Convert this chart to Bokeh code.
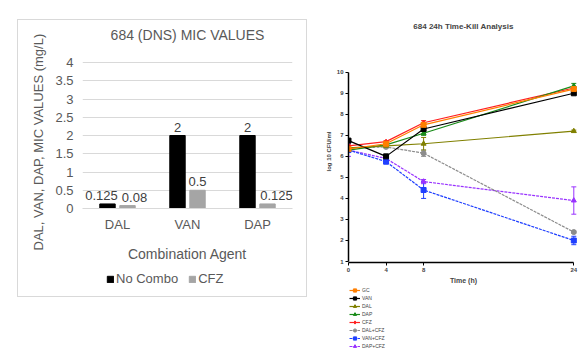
from bokeh.plotting import figure
from bokeh.models import (ColumnDataSource, FactorRange, FixedTicker, Legend, LegendItem,
                          Whisker, TeeHead, Range1d, Title)
from bokeh.layouts import row, column
from bokeh.transform import dodge
from bokeh.core.properties import value
from bokeh.embed import file_html
from bokeh.resources import INLINE

NAN = float("nan")

# ---------------- data: left bar chart ----------------
agents = ["DAL", "VAN", "DAP"]
no_combo = [0.125, 2, 2]
cfz_mic = [0.08, 0.5, 0.125]
no_combo_labels = ["0.125", "2", "2"]
cfz_labels = ["0.08", "0.5", "0.125"]
mic_ticks = [0, 0.5, 1, 1.5, 2, 2.5, 3, 3.5, 4]
mic_tick_labels = ["0", "0.5", "1", "1.5", "2", "2.5", "3", "3.5", "4"]
bar_series = ["No Combo", "CFZ"]

# ---------------- data: right time-kill chart ----------------
times = [0, 4, 8, 24]
series_names = ["GC", "VAN", "DAL", "DAP", "CFZ", "DAL+CFZ", "VAN+CFZ", "DAP+CFZ"]
gc = [6.35, 6.6, 7.5, 9.2]
van = [6.75, 6.0, 7.3, 9.0]
dal = [6.4, 6.5, 6.6, 7.2]
dap = [6.3, 6.55, 7.1, 9.35]
cfz = [6.5, 6.7, 7.6, 9.25]
dal_cfz = [6.4, 6.45, 6.15, 2.4]
van_cfz = [6.3, 5.75, 4.4, 2.0]
dap_cfz = [6.3, 5.9, 4.8, 3.9]
gc_sd = [0.05, 0.05, 0.1, 0.1]
van_sd = [0.05, 0.05, 0.1, 0.05]
dal_sd = [0.05, 0.05, 0.3, 0.05]
dap_sd = [0.05, 0.05, 0.1, 0.12]
cfz_sd = [0.05, 0.05, 0.1, 0.05]
dal_cfz_sd = [0.05, 0.05, 0.15, 0.05]
van_cfz_sd = [0.05, 0.1, 0.4, 0.2]
dap_cfz_sd = [0.3, 0.05, 0.1, 0.65]
tk_ticks_x = [0, 4, 8, 24]
tk_ticks_y = [1, 2, 3, 4, 5, 6, 7, 8, 9, 10]

TXT = "#595959"
FONT = "Liberation Sans"
BORDER = "#d9d9d9"
bar_colors = ["black", "#a5a5a5"]

# ---------------- left figure ----------------
pL = figure(x_range=FactorRange(factors=agents), y_range=(0, 4.466),
            width=288, height=249, output_backend="svg", toolbar_location=None,
            min_border_left=64, min_border_right=14, min_border_top=25, min_border_bottom=61)
pL.title.text = "684 (DNS) MIC VALUES"
pL.title.align = "center"
pL.title.text_font = FONT
pL.title.text_font_size = "14px"
pL.title.text_font_style = "normal"
pL.title.text_color = TXT
pL.title.standoff = 6
pL.outline_line_color = None

src = ColumnDataSource(dict(agent=agents, nc=no_combo, cf=cfz_mic,
                            nl=no_combo_labels, cl=cfz_labels))
# small horizontal nudges of the data labels (style only)
src.data["nx"] = [-6, 0, 0]
src.data["cx"] = [7, 0, 9]
pL.vbar(x=dodge("agent", -0.143, range=pL.x_range), top="nc", width=0.22,
        color=bar_colors[0], source=src)
pL.vbar(x=dodge("agent", 0.143, range=pL.x_range), top="cf", width=0.22,
        color=bar_colors[1], source=src)
pL.text(x=dodge("agent", -0.143, range=pL.x_range), y="nc", text="nl", source=src,
        text_align="center", text_baseline="bottom", y_offset=-4, x_offset="nx",
        text_font=value(FONT), text_font_size="13px", text_color="#404040")
pL.text(x=dodge("agent", 0.143, range=pL.x_range), y="cf", text="cl", source=src,
        text_align="center", text_baseline="bottom", y_offset=-4, x_offset="cx",
        text_font=value(FONT), text_font_size="13px", text_color="#404040")

pL.xgrid.visible = False
pL.ygrid.grid_line_color = BORDER
pL.ygrid.ticker = FixedTicker(ticks=mic_ticks)
pL.yaxis.ticker = FixedTicker(ticks=mic_ticks)
pL.yaxis.major_label_overrides = {t: l for t, l in zip(mic_ticks, mic_tick_labels)}
pL.yaxis.axis_line_color = None
pL.yaxis.major_tick_line_color = None
pL.yaxis.minor_tick_line_color = None
pL.yaxis.major_tick_out = 0
pL.yaxis.major_label_standoff = 9
pL.yaxis.major_label_text_font = FONT
pL.yaxis.major_label_text_font_size = "13px"
pL.yaxis.major_label_text_color = TXT
# y-axis title, anchored at its lower end like the original
pL.add_layout(Title(text="DAL, VAN, DAP, MIC VALUES (mg/L)", align="left", offset=-42,
                    vertical_align="middle", standoff=11, text_font=FONT,
                    text_font_size="13px", text_font_style="normal", text_color=TXT),
              "left")

pL.xaxis.axis_line_color = BORDER
pL.xaxis.major_tick_line_color = None
pL.xaxis.major_tick_out = 0
pL.xaxis.major_label_standoff = 8
pL.xaxis.major_label_text_font = FONT
pL.xaxis.major_label_text_font_size = "13px"
pL.xaxis.major_label_text_color = TXT
pL.xaxis.axis_label = "Combination Agent"
pL.xaxis.axis_label_text_font = FONT
pL.xaxis.axis_label_text_font_size = "14px"
pL.xaxis.axis_label_text_font_style = "normal"
pL.xaxis.axis_label_text_color = TXT
pL.xaxis.axis_label_standoff = 11

# legend strip below the left chart
lfL = figure(width=288, height=27, x_range=(0, 1), y_range=(0, 1), title=None,
             x_axis_type=None, y_axis_type=None, output_backend="svg",
             toolbar_location=None, min_border_left=64, min_border_right=14,
             min_border_top=0, min_border_bottom=0)
lfL.outline_line_color = None
lfL.grid.visible = False
legL_items = []
for name, col in zip(bar_series, bar_colors):
    r = lfL.vbar(x=[NAN], top=[NAN], width=0.5, color=col)
    legL_items.append(LegendItem(label=name, renderers=[r]))
lfL.add_layout(Legend(items=legL_items, orientation="horizontal", location=(24, 10),
                      glyph_width=8, glyph_height=8, label_height=14, label_standoff=2,
                      spacing=10, padding=2, margin=0, border_line_color=None,
                      background_fill_alpha=0,
                      label_text_font=FONT, label_text_font_size="13px",
                      label_text_color=TXT))

boxed = column(pL, lfL, margin=(19, 0, 56, 17),
               styles={"border": "1px solid " + BORDER})

# ---------------- right figure ----------------
pR = figure(width=279, height=286, x_range=Range1d(0, 24.5), y_range=Range1d(0.953, 11.51),
            output_backend="svg", toolbar_location=None,
            min_border_left=41, min_border_right=8, min_border_top=40, min_border_bottom=22)
pR.title.text = "684 24h Time-Kill Analysis"
pR.title.align = "center"
pR.title.text_font = FONT
pR.title.text_font_size = "8px"
pR.title.text_font_style = "bold"
pR.title.standoff = 20
pR.outline_line_color = None
pR.grid.visible = False

series_vals = [gc, van, dal, dap, cfz, dal_cfz, van_cfz, dap_cfz]
series_sd = [gc_sd, van_sd, dal_sd, dap_sd, cfz_sd, dal_cfz_sd, van_cfz_sd, dap_cfz_sd]
colors = ["#ff7f00", "#000000", "#808000", "#1a8c1a", "#ff2020", "#8c8c8c", "#1f3fff", "#9933ff"]
markers = ["square", "square", "triangle", "triangle", "diamond", "circle", "square", "triangle"]
dashes = ["solid"] * 5 + ["3 1"] * 3

for i in reversed(range(len(series_names))):
    vals, sd, c = series_vals[i], series_sd[i], colors[i]
    s = ColumnDataSource(dict(t=times, v=vals,
                              lo=[a - b for a, b in zip(vals, sd)],
                              hi=[a + b for a, b in zip(vals, sd)]))
    pR.line("t", "v", source=s, line_color=c, line_width=1.2, line_dash=dashes[i])
    pR.scatter("t", "v", source=s, marker=markers[i], size=5, color=c)
    pR.add_layout(Whisker(base="t", lower="lo", upper="hi", source=s, line_color=c,
                          line_width=1,
                          upper_head=TeeHead(size=5, line_color=c, line_width=1),
                          lower_head=TeeHead(size=5, line_color=c, line_width=1)))

for ax in (pR.xaxis, pR.yaxis):
    ax.axis_line_color = "black"
    ax.axis_line_width = 1.5
    ax.major_tick_line_color = "black"
    ax.major_tick_out = 3
    ax.major_tick_in = 0
    ax.minor_tick_line_color = None
    ax.major_label_standoff = 2
    ax.major_label_text_font = FONT
    ax.major_label_text_font_size = "6px"
    ax.major_label_text_font_style = "bold"
    ax.axis_label_text_font = FONT
    ax.axis_label_text_font_style = "bold"
    ax.axis_label_standoff = 2
pR.xaxis.ticker = FixedTicker(ticks=tk_ticks_x)
pR.xaxis.bounds = (0, 24)
pR.xaxis.axis_label = "Time (h)"
pR.xaxis.axis_label_text_font_size = "7px"
pR.yaxis.ticker = FixedTicker(ticks=tk_ticks_y)
pR.yaxis.bounds = (1, 10)
pR.yaxis.axis_label = "log 10 CFU/ml"
pR.yaxis.axis_label_text_font_size = "6px"

# legend strip below the right chart
lfR = figure(width=279, height=67, x_range=(0, 1), y_range=(0, 1), title=None,
             x_axis_type=None, y_axis_type=None, output_backend="svg",
             toolbar_location=None, min_border_left=38, min_border_right=8,
             min_border_top=0, min_border_bottom=0)
lfR.outline_line_color = None
lfR.grid.visible = False
legR_items = []
for i, name in enumerate(series_names):
    ln = lfR.line(x=[NAN], y=[NAN], line_color=colors[i], line_width=1.2, line_dash=dashes[i])
    mk = lfR.scatter(x=[NAN], y=[NAN], marker=markers[i], size=5, color=colors[i])
    legR_items.append(LegendItem(label=name, renderers=[ln, mk]))
lfR.add_layout(Legend(items=legR_items, location=(1, 3),
                      glyph_width=11, glyph_height=8, label_height=8, label_standoff=2,
                      spacing=0, padding=0, margin=0, border_line_color=None,
                      background_fill_alpha=0,
                      label_text_font=FONT, label_text_font_size="5px"))

layout = row(boxed, column(pR, lfR))
open("out.html", "w").write(file_html(layout, INLINE))
